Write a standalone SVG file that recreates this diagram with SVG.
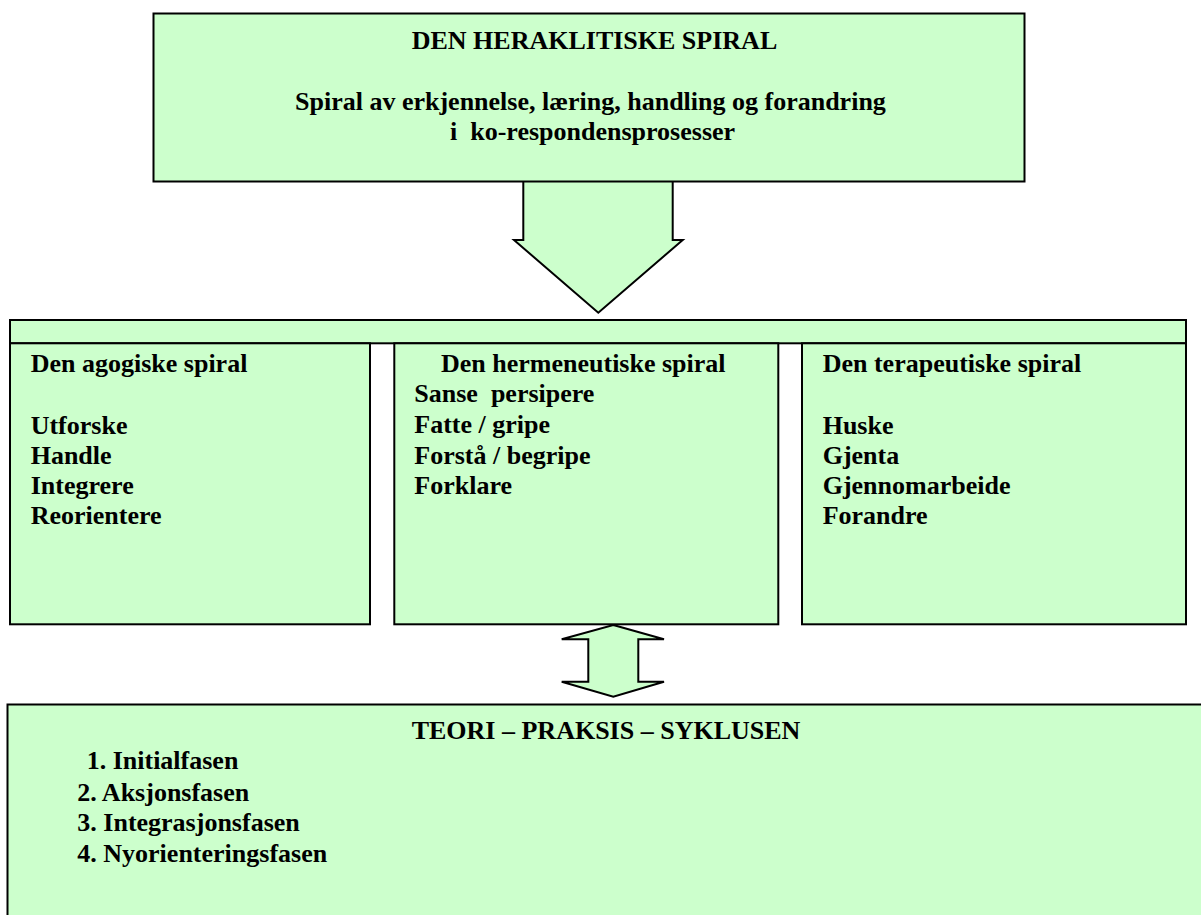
<svg xmlns="http://www.w3.org/2000/svg" width="1201" height="915" viewBox="0 0 1201 915" font-family="'Liberation Serif', 'Times New Roman', Times, serif">
<style>
.box{fill:#CCFFCC;stroke:#000;stroke-width:2}
.arrow{fill:#CCFFCC;stroke:#000;stroke-width:2;stroke-linejoin:miter}
text{font-family:'Liberation Serif','Times New Roman',Times,serif;font-weight:700;font-size:26px;fill:#000}
</style>
<rect width="1201" height="915" fill="#fff"/>
<g id="connectors">
<polygon class="arrow" points="523.3,181 672.7,181 672.7,240 682.7,240 598.3,312.7 514,240 523.3,240"/>
<polygon class="arrow" points="613.3,625 664,639.3 638.3,639.3 638.3,681.7 664,681.7 613.3,696.7 561.7,681.7 588.3,681.7 588.3,639.3 561.7,639.3"/>
</g>
<g id="node-heraklitiske">
<rect class="box" x="153.5" y="13.5" width="871" height="168"/>
<text x="411.7" y="48.5">DEN HERAKLITISKE SPIRAL</text>
<text x="295" y="109.5">Spiral av erkjennelse, læring, handling og forandring</text>
<text x="450" y="139.5" xml:space="preserve">i  ko-respondensprosesser</text>
</g>
<g id="node-band">
<rect class="box" x="10" y="320" width="1176" height="23.3"/>
</g>
<g id="node-agogiske">
<rect class="box" x="10" y="343.3" width="360" height="281"/>
<text x="30.7" y="371.7">Den agogiske spiral</text>
<text x="30.7" y="434">Utforske</text>
<text x="30.7" y="464">Handle</text>
<text x="30.7" y="494">Integrere</text>
<text x="30.7" y="524">Reorientere</text>
</g>
<g id="node-hermeneutiske">
<rect class="box" x="394.3" y="343.3" width="384" height="281"/>
<text x="441" y="371.7">Den hermeneutiske spiral</text>
<text x="414.3" y="402" xml:space="preserve">Sanse  persipere</text>
<text x="414.3" y="433">Fatte / gripe</text>
<text x="414.3" y="463.5">Forstå / begripe</text>
<text x="414.3" y="494">Forklare</text>
</g>
<g id="node-terapeutiske">
<rect class="box" x="802" y="343.3" width="384" height="281"/>
<text x="822.7" y="371.7">Den terapeutiske spiral</text>
<text x="822.7" y="434">Huske</text>
<text x="822.7" y="464">Gjenta</text>
<text x="822.7" y="494">Gjennomarbeide</text>
<text x="822.7" y="524">Forandre</text>
</g>
<g id="node-syklusen">
<rect class="box" x="7.5" y="704.5" width="1210" height="230"/>
<text x="411.7" y="739.3">TEORI – PRAKSIS – SYKLUSEN</text>
<text x="86.7" y="769.3">1. Initialfasen</text>
<text x="77.3" y="800.5">2. Aksjonsfasen</text>
<text x="77.3" y="831">3. Integrasjonsfasen</text>
<text x="77.3" y="861.5">4. Nyorienteringsfasen</text>
</g>
</svg>
